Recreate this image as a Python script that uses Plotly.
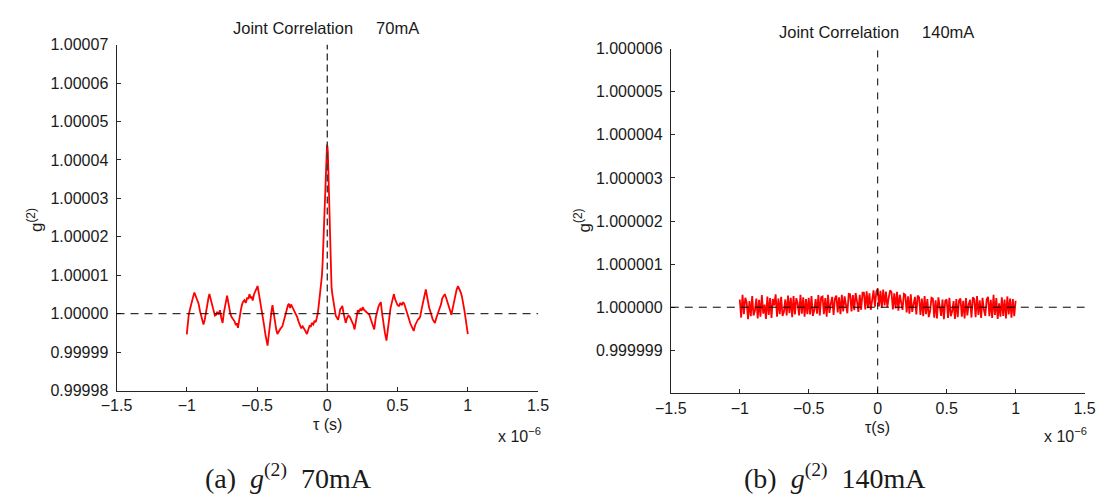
import numpy as np
import plotly.graph_objects as go

# ---------------- data ----------------
# (a) 70 mA : tau in units of 1e-6 s, g2 deviation in units of 1e-5
tau_70 = [-1.000, -0.993, -0.986, -0.975, -0.962, -0.954, -0.946, -0.938, -0.930, -0.923,
          -0.916, -0.905, -0.896, -0.888, -0.881, -0.872, -0.862, -0.852, -0.845, -0.839,
          -0.830, -0.822, -0.810, -0.800, -0.792, -0.784, -0.775, -0.764, -0.755, -0.745,
          -0.735, -0.724, -0.713, -0.705, -0.697, -0.690, -0.682, -0.670, -0.660, -0.650,
          -0.643, -0.636, -0.626, -0.615, -0.608, -0.601, -0.590, -0.580, -0.570, -0.562,
          -0.554, -0.545, -0.538, -0.531, -0.522, -0.512, -0.504, -0.496, -0.488, -0.478,
          -0.470, -0.461, -0.450, -0.440, -0.432, -0.425, -0.418, -0.410, -0.402, -0.396,
          -0.390, -0.382, -0.372, -0.363, -0.355, -0.345, -0.335, -0.320, -0.310, -0.300,
          -0.290, -0.280, -0.273, -0.265, -0.258, -0.250, -0.238, -0.228, -0.215, -0.205,
          -0.195, -0.185, -0.175, -0.165, -0.156, -0.145, -0.135, -0.125, -0.118, -0.110,
          -0.100, -0.090, -0.082, -0.075, -0.068, -0.060, -0.051, -0.044, -0.038, -0.033,
          -0.028, -0.024, -0.020, -0.016, -0.012, -0.009, -0.006, -0.002, 0.001, 0.004,
          0.007, 0.010, 0.013, 0.016, 0.019, 0.022, 0.026, 0.030, 0.036, 0.042,
          0.048, 0.054, 0.060, 0.068, 0.077, 0.085, 0.092, 0.100, 0.107, 0.115,
          0.123, 0.131, 0.140, 0.150, 0.160, 0.170, 0.180, 0.187, 0.194, 0.205,
          0.217, 0.225, 0.235, 0.244, 0.252, 0.262, 0.275, 0.288, 0.299, 0.310,
          0.322, 0.334, 0.345, 0.355, 0.364, 0.372, 0.381, 0.390, 0.400, 0.410,
          0.421, 0.430, 0.440, 0.450, 0.460, 0.468, 0.474, 0.482, 0.490, 0.500,
          0.510, 0.520, 0.530, 0.540, 0.548, 0.556, 0.566, 0.578, 0.590, 0.600,
          0.608, 0.615, 0.625, 0.635, 0.645, 0.655, 0.661, 0.670, 0.680, 0.690,
          0.701, 0.710, 0.718, 0.725, 0.731, 0.740, 0.750, 0.758, 0.766, 0.775,
          0.782, 0.790, 0.800, 0.810, 0.818, 0.826, 0.836, 0.845, 0.855, 0.865,
          0.875, 0.883, 0.893, 0.903, 0.912, 0.920, 0.930, 0.940, 0.950, 0.958,
          0.965, 0.975, 0.985, 0.993, 1.000]
dev_70 = [-0.54, -0.30, -0.03, 0.15, 0.38, 0.45, 0.55, 0.47, 0.40, 0.32,
          0.26, 0.05, -0.10, -0.22, -0.28, -0.15, 0.10, 0.30, 0.42, 0.51,
          0.38, 0.26, 0.10, -0.05, -0.03, 0.05, -0.02, 0.09, -0.10, -0.24,
          0.05, 0.30, 0.47, 0.30, 0.10, 0.00, -0.08, -0.15, -0.20, -0.30,
          -0.25, -0.37, -0.10, 0.10, 0.22, 0.30, 0.35, 0.28, 0.42, 0.38,
          0.51, 0.40, 0.45, 0.34, 0.50, 0.58, 0.63, 0.72, 0.55, 0.35,
          0.20, 0.01, -0.30, -0.55, -0.72, -0.83, -0.60, -0.30, -0.05, 0.10,
          0.22, 0.00, -0.25, -0.42, -0.53, -0.45, -0.40, -0.33, -0.20, -0.05,
          0.12, 0.22, 0.26, 0.15, 0.24, 0.18, 0.13, 0.05, -0.08, -0.20,
          -0.30, -0.38, -0.33, -0.42, -0.45, -0.53, -0.40, -0.30, -0.35, -0.24,
          -0.28, -0.18, -0.22, -0.12, 0.00, 0.25, 0.51, 0.75, 1.00, 1.35,
          1.80, 2.20, 2.60, 3.00, 3.40, 3.75, 4.10, 4.40, 4.35, 4.20,
          3.85, 3.40, 2.90, 2.40, 1.95, 1.50, 1.05, 0.70, 0.50, 0.35,
          0.20, 0.09, -0.05, -0.10, -0.16, -0.02, 0.12, 0.15, 0.20, 0.02,
          -0.10, -0.24, -0.12, -0.05, -0.08, -0.16, -0.25, -0.30, -0.41, -0.15,
          0.09, 0.05, 0.12, 0.08, 0.17, 0.10, 0.05, 0.02, -0.03, -0.15,
          -0.30, -0.41, -0.10, 0.10, 0.18, 0.25, 0.30, 0.00, -0.30, -0.50,
          -0.70, -0.40, -0.10, 0.15, 0.30, 0.42, 0.51, 0.38, 0.30, 0.22,
          0.20, 0.28, 0.22, 0.30, 0.25, 0.17, 0.05, -0.10, -0.25, -0.35,
          -0.40, -0.45, -0.30, -0.20, -0.15, -0.12, -0.08, 0.10, 0.30, 0.50,
          0.63, 0.45, 0.25, 0.15, 0.09, -0.05, -0.15, -0.20, -0.24, -0.12,
          -0.05, 0.00, 0.10, 0.25, 0.40, 0.45, 0.51, 0.42, 0.30, 0.15,
          0.05, -0.03, 0.15, 0.35, 0.50, 0.62, 0.72, 0.65, 0.55, 0.45,
          0.34, 0.10, -0.15, -0.35, -0.53]

# (b) 140 mA : samples every 0.01e-6 s from -1e-6 to 1e-6, deviation in units of 1e-7
tau_140_start, tau_140_step = -1.0, 0.01
dev_140 = [1.8, -2.4, 2.9, -1.6, 2.2, 1.1, -2.8, 1.4, -2.1, 2.6,
           -1.9, -0.8, 2.0, -2.6, 1.7, -2.2, 2.8, -1.5, 0.6, -2.7,
           2.5, -1.8, 2.1, -2.5, 1.9, 0.4, 3.0, -2.2, 2.0, -1.6,
           2.4, -2.0, -1.1, 1.8, -1.9, 2.7, -1.4, 2.2, -2.3, 2.6,
           -1.7, 2.1, 0.9, -1.9, 2.9, -1.5, 2.3, -2.2, 1.9, -1.6,
           2.2, -1.7, 2.6, -2.0, -0.7, 1.9, -1.5, 2.8, -1.9, 2.3,
           2.5, -1.6, 2.1, -2.2, 2.9, -1.3, 0.8, 2.4, -1.8, 2.0,
           2.7, -1.2, 2.3, -1.6, 2.9, -1.0, 2.5, 0.6, -1.4, 3.1,
           3.0, -1.0, 2.8, -0.7, 3.3, 1.4, -1.1, 2.9, -0.6, 3.4,
           3.4, -0.5, 3.7, -0.2, 3.2, -0.6, 2.1, 3.9, 0.1, 3.6,
           4.3, 0.2, 3.8, -0.1, 4.1, 0.4, 3.6, 0.0, 2.2, 3.9,
           3.5, -0.5, 3.2, -0.3, 3.6, -0.8, 2.9, 1.2, -0.6, 3.1,
           2.9, -1.2, 2.5, -1.5, 3.0, -1.1, 0.5, 2.4, -1.7, 2.7,
           2.3, -1.8, 2.0, -2.1, 2.6, -1.6, 1.9, -2.3, -0.9, 2.2,
           2.0, -2.4, 1.6, -2.6, 2.3, 0.3, -2.0, 1.8, -2.8, 1.5,
           1.8, -2.5, 2.2, -2.1, -1.0, 1.4, -2.7, 1.9, -2.3, 1.6,
           2.0, -2.2, 1.5, -2.6, 2.1, -1.9, 0.7, 1.7, -2.4, 2.3,
           1.9, -2.3, 2.6, -1.8, 1.6, -2.5, 2.2, -0.6, -2.0, 1.8,
           2.4, -2.1, 1.7, -2.5, 2.9, -1.8, 2.1, -2.7, 0.9, -2.2,
           2.3, -2.0, 1.8, -2.6, 2.5, -1.7, 2.0, -2.4, 1.9, -2.1,
           1.5]

# axis ticks
x_ticks = [-1.5, -1.0, -0.5, 0.0, 0.5, 1.0, 1.5]
x_ticktext = ["\u22121.5", "\u22121", "\u22120.5", "0", "0.5", "1", "1.5"]
y_ticks_70 = [0.99998, 0.99999, 1.00000, 1.00001, 1.00002, 1.00003, 1.00004, 1.00005, 1.00006, 1.00007]
y_ticktext_70 = ["0.99998", "0.99999", "1.00000", "1.00001", "1.00002", "1.00003",
                 "1.00004", "1.00005", "1.00006", "1.00007"]
y_ticks_140 = [0.999999, 1.000000, 1.000001, 1.000002, 1.000003, 1.000004, 1.000005, 1.000006]
y_ticktext_140 = ["0.999999", "1.000000", "1.000001", "1.000002", "1.000003",
                  "1.000004", "1.000005", "1.000006"]
y_range_70 = [0.99998, 1.00007]
y_range_140 = [0.999998, 1.000006]

# ---------------- figure ----------------
W, H = 1119, 500
FONT = "Liberation Sans, Arial, Helvetica, sans-serif"
SERIF = "Liberation Serif, Times New Roman, serif"
AX = "#262626"
TXT = "#1a1a1a"

x140 = tau_140_start + tau_140_step * np.arange(len(dev_140))
y70 = 1.0 + np.array(dev_70) * 1e-5
y140 = 1.0 + np.array(dev_140) * 1e-7

fig = go.Figure()
fig.add_trace(go.Scatter(x=tau_70, y=y70, mode="lines", line=dict(color="#ff0000", width=1.8),
                         xaxis="x", yaxis="y", showlegend=False, hoverinfo="skip"))
fig.add_trace(go.Scatter(x=x140, y=y140, mode="lines", line=dict(color="#ff0000", width=1.8),
                         xaxis="x2", yaxis="y2", showlegend=False, hoverinfo="skip"))


def px_x(p):
    return p / W


def px_y(p):
    return 1 - p / H


axis_common = dict(showgrid=False, zeroline=False, showline=True, linecolor=AX, linewidth=1,
                   ticks="inside", ticklen=4, tickwidth=1, tickcolor=AX, mirror=False,
                   tickfont=dict(family=FONT, size=16, color=TXT))

fig.update_layout(
    width=W, height=H, margin=dict(l=0, r=0, t=0, b=0), autosize=False,
    paper_bgcolor="white", plot_bgcolor="white",
    xaxis=dict(domain=[px_x(103), px_x(535)], range=[-1.5, 1.5], anchor="y",
               tickvals=x_ticks, ticktext=x_ticktext, **axis_common),
    yaxis=dict(domain=[px_y(396), px_y(38)], range=y_range_70, anchor="x",
               tickvals=y_ticks_70, ticktext=y_ticktext_70, ticklabelstandoff=4, **axis_common),
    xaxis2=dict(domain=[px_x(671), px_x(1095)], range=[-1.5, 1.5], anchor="y2",
                tickvals=x_ticks, ticktext=x_ticktext, **axis_common),
    yaxis2=dict(domain=[px_y(399), px_y(42)], range=y_range_140, anchor="x2",
                tickvals=y_ticks_140, ticktext=y_ticktext_140, ticklabelstandoff=4, **axis_common),
)

# reference dashed lines
shapes = [
    dict(type="line", xref="x", yref="y domain", x0=0, x1=0, y0=0, y1=1,
         line=dict(color="#3a3a3a", width=1.4, dash="7px,4px"), layer="above"),
    dict(type="line", xref="x domain", yref="y", x0=0, x1=1, y0=1.0, y1=1.0,
         line=dict(color="black", width=1, dash="8px,6px"), layer="above"),
    dict(type="line", xref="x2", yref="y2 domain", x0=0, x1=0, y0=0, y1=1,
         line=dict(color="black", width=1, dash="7px,7px"), layer="above"),
    dict(type="line", xref="x2 domain", yref="y2", x0=0, x1=1, y0=1.0, y1=1.0,
         line=dict(color="black", width=1, dash="8px,6px"), layer="above"),
]
fig.update_layout(shapes=shapes)

nb = "\u00a0"
ann = []


def add(text, xp, yp, size=16, family=FONT, xanchor="center", yanchor="middle", angle=0):
    ann.append(dict(text=text, x=px_x(xp), y=px_y(yp), xref="paper", yref="paper",
                    showarrow=False, xanchor=xanchor, yanchor=yanchor, textangle=angle,
                    font=dict(family=family, size=size, color=TXT)))


add("Joint Correlation" + nb * 5 + "70mA", 318, 21, size=16.5)
add("Joint Correlation" + nb * 5 + "140mA", 882, 25, size=16.5)
add("\u03c4 (s)", 319, 431, size=16)
add("\u03c4(s)", 883, 434, size=16)
add("x 10<sup>\u22126</sup>", 540, 442, size=16, xanchor="right")
add("x 10<sup>\u22126</sup>", 1100, 442, size=16, xanchor="right")
add("g<sup>(2)</sup>", 19, 220, size=17, angle=-90)
add("g<sup>(2)</sup>", 580, 220, size=17, angle=-90)
add("(a)" + nb * 2 + "<i>g</i><sup>(2)</sup>" + nb * 2 + "70mA", 279, 485, size=28, family=SERIF)
add("(b)" + nb * 2 + "<i>g</i><sup>(2)</sup>" + nb * 2 + "140mA", 839, 485, size=28, family=SERIF)
fig.update_layout(annotations=ann)

fig.write_html("out.html")
